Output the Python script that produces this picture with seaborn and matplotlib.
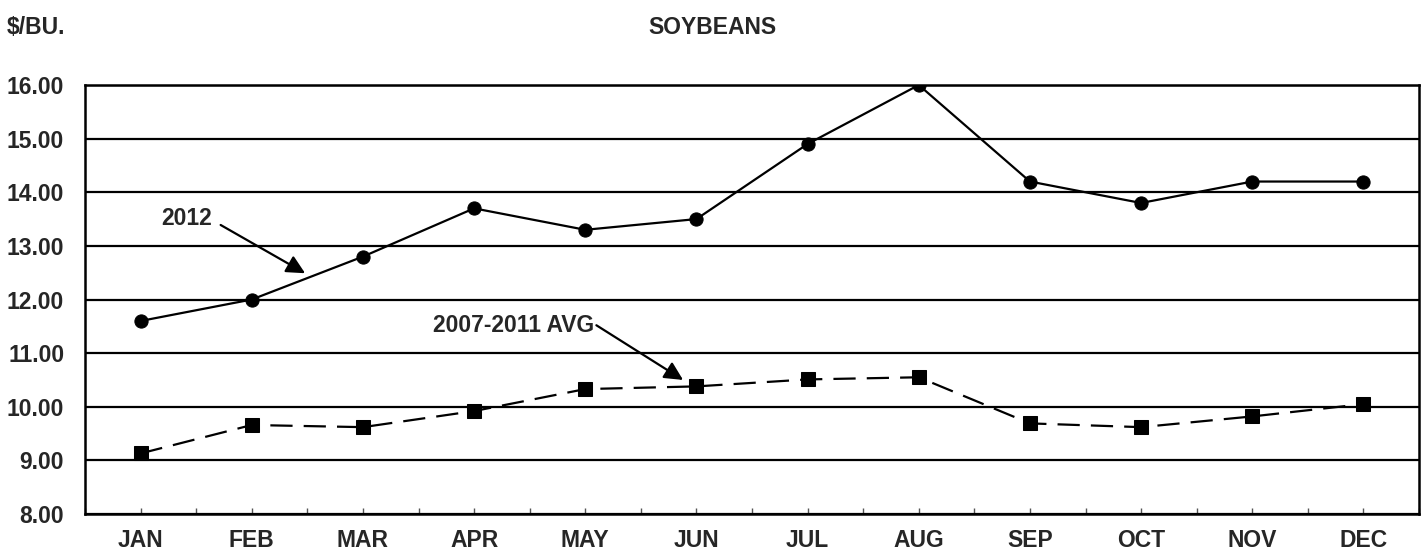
import pandas as pd
import numpy as np
import matplotlib
matplotlib.use("Agg")
import matplotlib.pyplot as plt
import seaborn as sns
from matplotlib.ticker import FixedLocator, FormatStrFormatter

# -----------------------------
# DATA
# -----------------------------

months = ["JAN", "FEB", "MAR", "APR", "MAY", "JUN",
          "JUL", "AUG", "SEP", "OCT", "NOV", "DEC"]

price_2012 = [11.60, 12.00, 12.80, 13.70, 13.30, 13.50,
              14.90, 16.00, 14.20, 13.80, 14.20, 14.20]

price_avg = [9.13, 9.66, 9.62, 9.92, 10.33, 10.38,
             10.51, 10.55, 9.69, 9.62, 9.82, 10.05]

y_ticks = [8, 9, 10, 11, 12, 13, 14, 15, 16]

df = pd.DataFrame({"Month": months, "2012": price_2012, "AVG": price_avg})

# -----------------------------
# STYLE
# -----------------------------

sns.set_style("white")
plt.rcParams["font.family"] = ["Liberation Sans", "DejaVu Sans"]
plt.rcParams["font.weight"] = "bold"

FS = 16.5

fig = plt.figure(figsize=(14.24, 5.52), dpi=100)
ax = fig.add_axes([0.0597, 0.0688, 0.9368, 0.7772])

# -----------------------------
# LINES
# -----------------------------

sns.lineplot(data=df, x="Month", y="2012", ax=ax, color="black",
             linewidth=1.6, marker="o", markersize=9.5,
             markeredgecolor="black", sort=False)

sns.lineplot(data=df, x="Month", y="AVG", ax=ax, color="black",
             linewidth=1.6, marker="s", markersize=10,
             markeredgecolor="black", sort=False,
             dashes=False, linestyle=(0, (10, 5)))

# -----------------------------
# AXES
# -----------------------------

ax.set_xlim(-0.5, len(months) - 0.5)
ax.set_ylim(8, 16)
ax.yaxis.set_major_locator(FixedLocator(y_ticks))
ax.yaxis.set_major_formatter(FormatStrFormatter("%.2f"))
ax.grid(axis="y", color="black", linewidth=1.6)
ax.grid(axis="x", visible=False)

ax.xaxis.set_minor_locator(FixedLocator(np.arange(-0.5, len(months), 1.0)))
ax.tick_params(axis="x", which="both", direction="in", length=4,
               width=1, color="#555555", bottom=True, pad=11)
ax.tick_params(axis="y", length=0, pad=15)

for lbl in ax.get_xticklabels() + ax.get_yticklabels():
    lbl.set_fontsize(FS)
    lbl.set_fontweight("bold")

for sp in ax.spines.values():
    sp.set_visible(True)
    sp.set_color("black")
    sp.set_linewidth(1.8)

ax.set_xlabel("")
ax.set_ylabel("")

# -----------------------------
# TITLES AND ANNOTATIONS
# -----------------------------

fig.text(0.5, 0.951, "SOYBEANS", ha="center", va="center",
         fontsize=FS, fontweight="bold")
fig.text(0.005, 0.951, "$/BU.", ha="left", va="center",
         fontsize=FS, fontweight="bold")

arrow = dict(arrowstyle="-|>,head_length=0.7,head_width=0.35",
             color="black", lw=1.6, mutation_scale=16, shrinkA=0, shrinkB=0)

ax.text(0.64, 13.52, "2012", ha="right", va="center",
        fontsize=FS, fontweight="bold")
ax.annotate("", xy=(1.48, 12.49), xytext=(0.72, 13.39), arrowprops=arrow)

ax.text(4.08, 11.52, "2007-2011 AVG", ha="right", va="center",
        fontsize=FS, fontweight="bold")
ax.annotate("", xy=(4.88, 10.50), xytext=(4.10, 11.52), arrowprops=arrow)

fig.savefig("out.png", dpi=100)
